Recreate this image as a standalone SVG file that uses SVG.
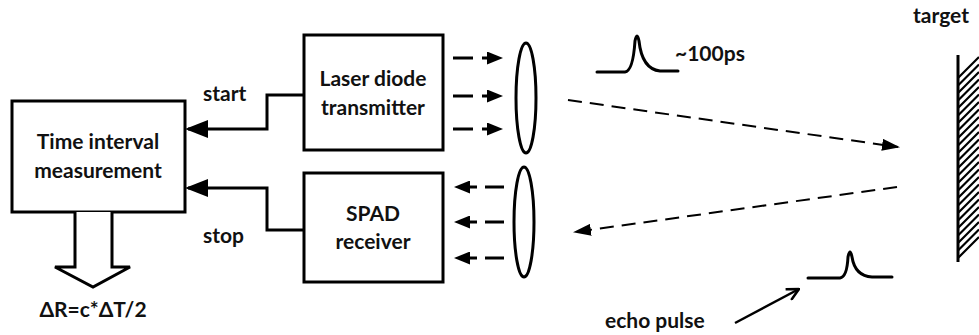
<svg xmlns="http://www.w3.org/2000/svg" width="979" height="335" viewBox="0 0 979 335">
<style>
text{font-family:Lato,"Open Sans","DejaVu Sans",sans-serif;fill:#111;font-weight:bold;}
.box{fill:#fff;stroke:#000;stroke-width:3;}
.t20{font-size:21px;text-anchor:middle;}
.lbl{font-size:21px;}
.wire{fill:none;stroke:#000;stroke-width:3;}
.dsh{fill:none;stroke:#000;stroke-width:3;}
.beam{fill:none;stroke:#000;stroke-width:2;stroke-dasharray:14 8;}
.lens{fill:#fff;stroke:#000;stroke-width:3;}
.pulse{fill:none;stroke:#000;stroke-width:3;stroke-linejoin:round;stroke-linecap:round;}
.hatch{stroke:#000;stroke-width:2.2;}
</style>
<defs>
<marker id="big" viewBox="0 0 23 18" refX="20" refY="9" markerWidth="23" markerHeight="18" markerUnits="userSpaceOnUse" orient="auto"><path d="M0,0 L23,9 L0,18 z" fill="#000"/></marker>
<marker id="small" viewBox="0 0 16 13" refX="3" refY="6.5" markerWidth="16" markerHeight="13" markerUnits="userSpaceOnUse" orient="auto"><path d="M0,0 L16,6.5 L0,13 z" fill="#000"/></marker>
<marker id="beamhead" viewBox="0 0 18 12" refX="16" refY="6" markerWidth="18" markerHeight="12" markerUnits="userSpaceOnUse" orient="auto"><path d="M0,0 L18,6 L0,12 z" fill="#000"/></marker>
<marker id="open" viewBox="0 0 14 14" refX="13" refY="7" markerWidth="14" markerHeight="14" markerUnits="userSpaceOnUse" orient="auto"><path d="M1,1 L13,7 L1,13" fill="none" stroke="#000" stroke-width="2.5"/></marker>
<clipPath id="hclip"><polygon points="958,55 979,55 979,241 958,262"/></clipPath>
</defs>

<g id="connectors">
<path class="wire" d="M303,95 H267 V129 H188" marker-end="url(#big)"/>
<path class="wire" d="M303,230 H267 V188 H188" marker-end="url(#big)"/>
<path class="dsh" d="M453,58 H473 M482,58 H490" marker-end="url(#small)"/>
<path class="dsh" d="M453,96 H473 M482,96 H490" marker-end="url(#small)"/>
<path class="dsh" d="M453,129 H473 M482,129 H490" marker-end="url(#small)"/>
<path class="dsh" d="M504,187 H485 M477,187 H467" marker-end="url(#small)"/>
<path class="dsh" d="M504,222 H485 M477,222 H467" marker-end="url(#small)"/>
<path class="dsh" d="M504,258 H485 M477,258 H467" marker-end="url(#small)"/>
<path class="beam" d="M568,100 L898,147" marker-end="url(#beamhead)"/>
<path class="beam" d="M897,187 L575,232" marker-end="url(#beamhead)"/>
<path fill="none" stroke="#000" stroke-width="2.5" d="M735,323 L799,289" marker-end="url(#open)"/>
</g>

<g id="time-interval">
<rect class="box" x="12" y="101" width="173" height="111"/>
<text class="t20" x="98" y="149">Time interval</text>
<text class="t20" x="98" y="178">measurement</text>
</g>

<g id="result">
<path fill="#fff" stroke="#000" stroke-width="3" stroke-linejoin="miter" d="M75,212 V267 H55 L93,287 L130,267 H112 V212"/>
<text class="t20" x="93" y="317">ΔR=c*ΔT/2</text>
</g>

<g id="laser">
<rect class="box" x="304" y="35" width="139" height="115"/>
<text class="t20" x="373" y="86">Laser diode</text>
<text class="t20" x="373" y="115">transmitter</text>
</g>

<g id="spad">
<rect class="box" x="304" y="173" width="139" height="109"/>
<text class="t20" x="373" y="221">SPAD</text>
<text class="t20" x="373" y="249">receiver</text>
</g>

<g id="labels">
<text class="lbl" x="203" y="101">start</text>
<text class="lbl" x="203" y="243">stop</text>
</g>

<g id="lens-tx"><ellipse class="lens" cx="526" cy="98" rx="10" ry="55"/></g>
<g id="lens-rx"><ellipse class="lens" cx="524" cy="222" rx="10" ry="55"/></g>

<g id="pulse-tx">
<path class="pulse" d="M597,72 L625,72 Q633,71 635,41 Q637,31 639,41 Q642,69 660,71 L678,71"/>
<text class="lbl" x="675" y="61">~100ps</text>
</g>

<g id="pulse-echo">
<path class="pulse" d="M808,278 L840,278 Q847,277 848,257 Q850,247 852,257 Q855,276 872,277 L892,277"/>
<text class="lbl" x="605" y="328">echo pulse</text>
</g>

<g id="target">
<text class="lbl" x="913" y="23">target</text>
<g clip-path="url(#hclip)" class="hatch">
<path d="M958,78 l21,-21 M958,85.5 l21,-21 M958,93 l21,-21 M958,100.5 l21,-21 M958,108 l21,-21 M958,115.5 l21,-21 M958,123 l21,-21 M958,130.5 l21,-21 M958,138 l21,-21 M958,145.5 l21,-21 M958,153 l21,-21 M958,160.5 l21,-21 M958,168 l21,-21 M958,175.5 l21,-21 M958,183 l21,-21 M958,190.5 l21,-21 M958,198 l21,-21 M958,205.5 l21,-21 M958,213 l21,-21 M958,220.5 l21,-21 M958,228 l21,-21 M958,235.5 l21,-21 M958,243 l21,-21 M958,250.5 l21,-21 M958,258 l21,-21 M958,265.5 l21,-21"/>
</g>
<line x1="958" y1="55" x2="958" y2="262" stroke="#000" stroke-width="3"/>
</g>
</svg>
